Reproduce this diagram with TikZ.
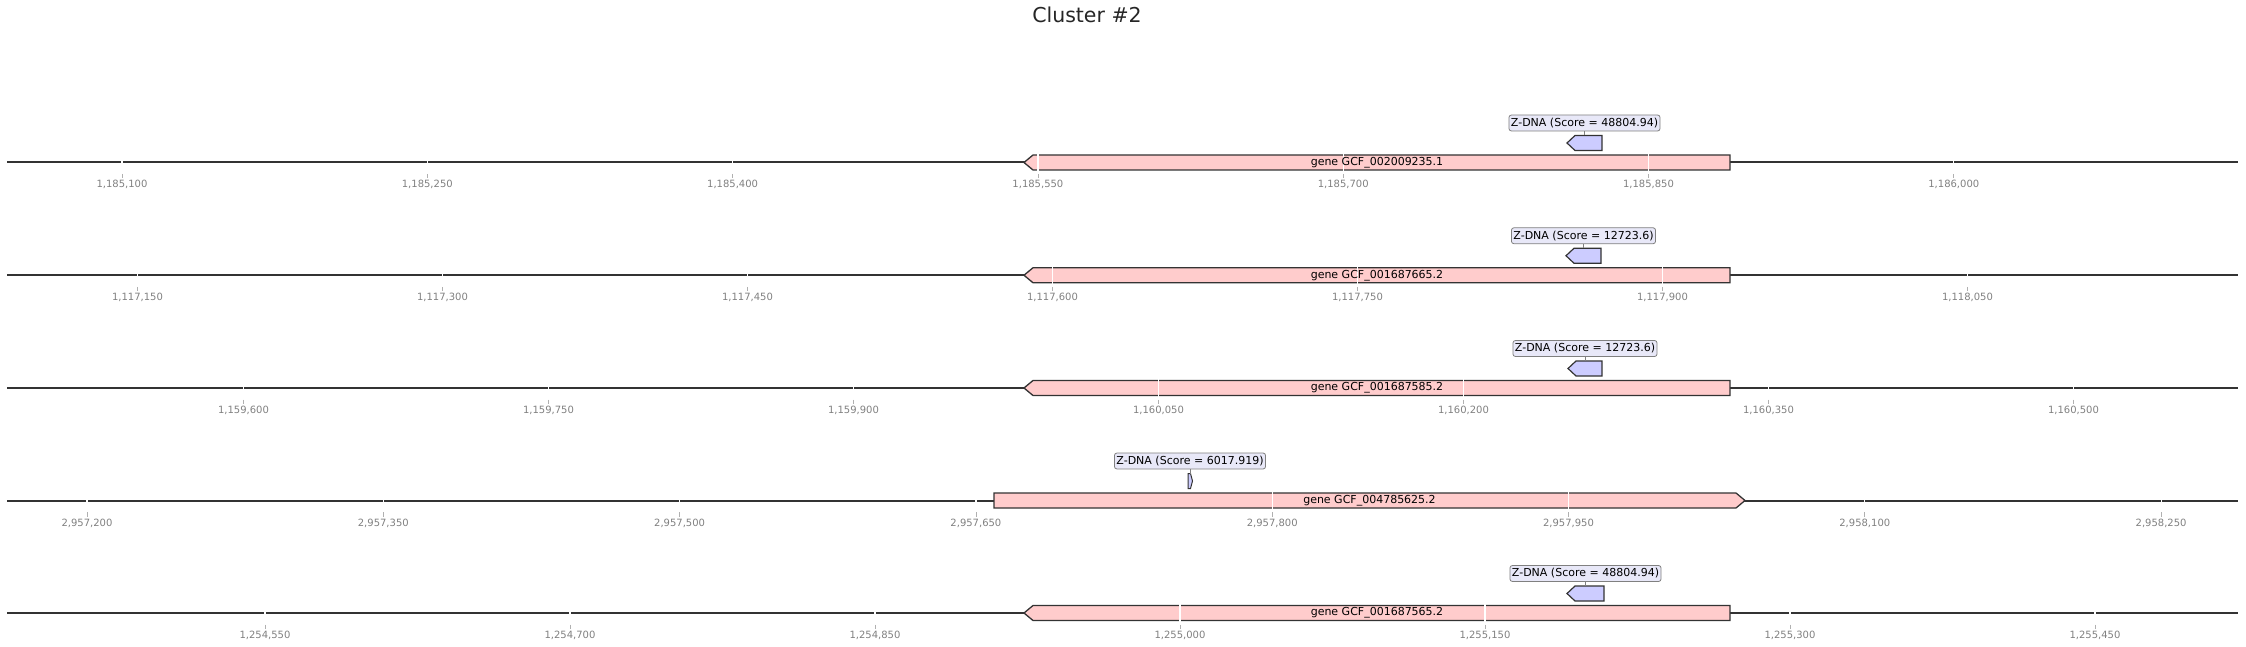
\documentclass[tikz,border=0pt]{standalone}
\usepackage{fontspec}
\setmainfont{DejaVu Sans}
\definecolor{genefill}{HTML}{FFCCCC}
\definecolor{zfill}{HTML}{CCCCFF}
\definecolor{labfill}{HTML}{E8E8F8}
\definecolor{edge}{HTML}{333333}
\definecolor{ticktext}{HTML}{808080}
\definecolor{tickline}{HTML}{B0B0B0}
\begin{document}
\begin{tikzpicture}[x=1pt, y=-1pt,
    backbone/.style={edge, line width=2pt},
    genebox/.style={draw=edge, line width=1.3pt, fill=genefill},
    zbox/.style={draw=edge, line width=1.2pt, fill=zfill},
    zlabel/.style={draw=gray, line width=0.8pt, fill=labfill, rounded corners=2.5pt,
      font=\fontsize{11}{13}\selectfont, inner xsep=2pt, inner ysep=1pt, minimum height=16pt},
    zlink/.style={gray, line width=0.8pt},
    genetext/.style={font=\fontsize{11}{13}\selectfont},
    gridline/.style={white, line width=1.2pt},
    tickmark/.style={tickline, line width=0.8pt},
    ticklabel/.style={text=ticktext, font=\fontsize{10}{12}\selectfont, anchor=base}]
  \useasboundingbox (0, 0) rectangle (2246, 647);
  \node [font=\fontsize{20.5}{24}\selectfont, text=black!85, anchor=base] (title) at (1087, 23) {Cluster \#2};

  \begin{scope}[shift={(0, 162.5)}]
    \draw [backbone] (7, 0) -- (2238, 0);
    \draw [genebox] (1024, 0) -- (1033, -7.5) -- (1730, -7.5) -- (1730, 7.5) -- (1033, 7.5) -- cycle;
    \foreach \x/\t in {122/{1,185,100}, 427.3/{1,185,250}, 732.6/{1,185,400}, 1037.9/{1,185,550},
                       1343.2/{1,185,700}, 1648.5/{1,185,850}, 1953.8/{1,186,000}} {
      \draw [gridline] (\x, -9) -- (\x, 9);
      \draw [tickmark] (\x, 11.5) -- (\x, 16);
      \node [ticklabel] at (\x, 25.5) {\t};
    }
    \node [genetext] (gene1) at (1377, 0) {gene GCF\_002009235.1};
    \draw [zbox] (1567, -19.5) -- (1575, -27) -- (1602, -27) -- (1602, -12) -- (1575, -12) -- cycle;
    \coordinate (z1) at (1584.5, -27);
    \node [zlabel] (lab1) at (1584.5, -39.5) {Z-DNA (Score = 48804.94)};
    \draw [zlink] (lab1) -- (z1);
  \end{scope}

  \begin{scope}[shift={(0, 275.25)}]
    \draw [backbone] (7, 0) -- (2238, 0);
    \draw [genebox] (1024, 0) -- (1033, -7.5) -- (1730, -7.5) -- (1730, 7.5) -- (1033, 7.5) -- cycle;
    \foreach \x/\t in {137.5/{1,117,150}, 442.5/{1,117,300}, 747.5/{1,117,450}, 1052.5/{1,117,600},
                       1357.5/{1,117,750}, 1662.5/{1,117,900}, 1967.5/{1,118,050}} {
      \draw [gridline] (\x, -9) -- (\x, 9);
      \draw [tickmark] (\x, 11.5) -- (\x, 16);
      \node [ticklabel] at (\x, 25.5) {\t};
    }
    \node [genetext] (gene2) at (1377, 0) {gene GCF\_001687665.2};
    \draw [zbox] (1566, -19.5) -- (1574, -27) -- (1601, -27) -- (1601, -12) -- (1574, -12) -- cycle;
    \coordinate (z2) at (1583.5, -27);
    \node [zlabel] (lab2) at (1583.5, -39.5) {Z-DNA (Score = 12723.6)};
    \draw [zlink] (lab2) -- (z2);
  \end{scope}

  \begin{scope}[shift={(0, 388)}]
    \draw [backbone] (7, 0) -- (2238, 0);
    \draw [genebox] (1024, 0) -- (1033, -7.5) -- (1730, -7.5) -- (1730, 7.5) -- (1033, 7.5) -- cycle;
    \foreach \x/\t in {243.5/{1,159,600}, 548.5/{1,159,750}, 853.5/{1,159,900}, 1158.5/{1,160,050},
                       1463.5/{1,160,200}, 1768.5/{1,160,350}, 2073.5/{1,160,500}} {
      \draw [gridline] (\x, -9) -- (\x, 9);
      \draw [tickmark] (\x, 11.5) -- (\x, 16);
      \node [ticklabel] at (\x, 25.5) {\t};
    }
    \node [genetext] (gene3) at (1377, 0) {gene GCF\_001687585.2};
    \draw [zbox] (1568, -19.5) -- (1576, -27) -- (1602, -27) -- (1602, -12) -- (1576, -12) -- cycle;
    \coordinate (z3) at (1585, -27);
    \node [zlabel] (lab3) at (1585, -39.5) {Z-DNA (Score = 12723.6)};
    \draw [zlink] (lab3) -- (z3);
  \end{scope}

  \begin{scope}[shift={(0, 500.5)}]
    \draw [backbone] (7, 0) -- (2238, 0);
    \draw [genebox] (994, -7.5) -- (1736, -7.5) -- (1745, 0) -- (1736, 7.5) -- (994, 7.5) -- cycle;
    \foreach \x/\t in {87/{2,957,200}, 383.3/{2,957,350}, 679.6/{2,957,500}, 975.9/{2,957,650},
                       1272.2/{2,957,800}, 1568.5/{2,957,950}, 1864.8/{2,958,100}, 2161.1/{2,958,250}} {
      \draw [gridline] (\x, -9) -- (\x, 9);
      \draw [tickmark] (\x, 11.5) -- (\x, 16);
      \node [ticklabel] at (\x, 25.5) {\t};
    }
    \node [genetext] (gene4) at (1369.5, 0) {gene GCF\_004785625.2};
    \draw [zbox, line width=1pt] (1188, -27) -- (1190.5, -27) -- (1192.5, -19.5) -- (1190.5, -12) -- (1188, -12) -- cycle;
    \coordinate (z4) at (1190, -27);
    \node [zlabel] (lab4) at (1190, -39.5) {Z-DNA (Score = 6017.919)};
    \draw [zlink] (lab4) -- (z4);
  \end{scope}

  \begin{scope}[shift={(0, 613)}]
    \draw [backbone] (7, 0) -- (2238, 0);
    \draw [genebox] (1024, 0) -- (1033, -7.5) -- (1730, -7.5) -- (1730, 7.5) -- (1033, 7.5) -- cycle;
    \foreach \x/\t in {265/{1,254,550}, 570/{1,254,700}, 875/{1,254,850}, 1180/{1,255,000},
                       1485/{1,255,150}, 1790/{1,255,300}, 2095/{1,255,450}} {
      \draw [gridline] (\x, -9) -- (\x, 9);
      \draw [tickmark] (\x, 11.5) -- (\x, 16);
      \node [ticklabel] at (\x, 25.5) {\t};
    }
    \node [genetext] (gene5) at (1377, 0) {gene GCF\_001687565.2};
    \draw [zbox] (1567, -19.5) -- (1575, -27) -- (1604, -27) -- (1604, -12) -- (1575, -12) -- cycle;
    \coordinate (z5) at (1585.5, -27);
    \node [zlabel] (lab5) at (1585.5, -39.5) {Z-DNA (Score = 48804.94)};
    \draw [zlink] (lab5) -- (z5);
  \end{scope}
\end{tikzpicture}
\end{document}
